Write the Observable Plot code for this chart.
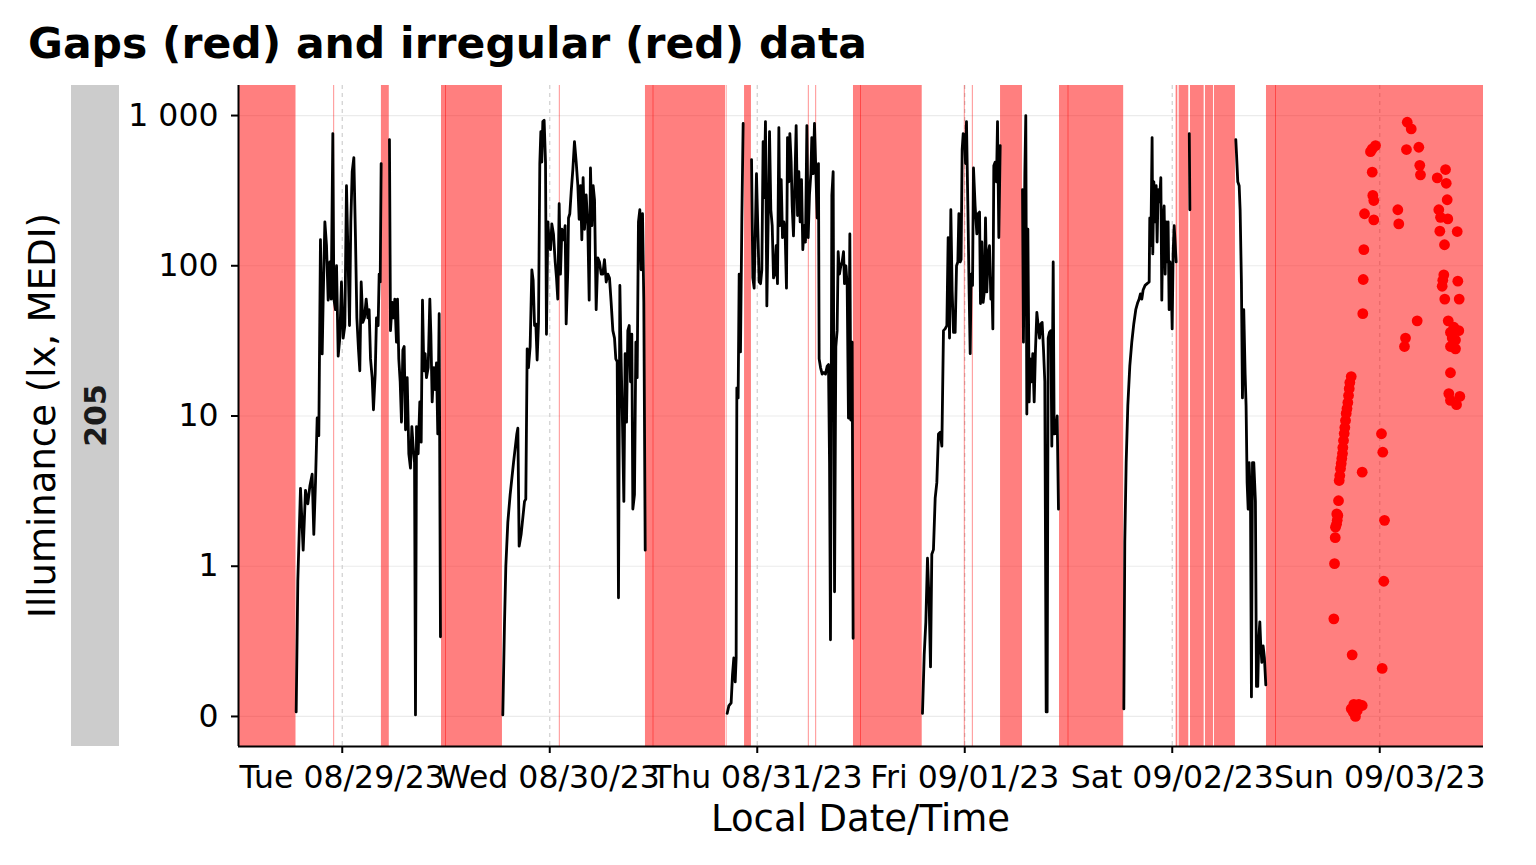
<!DOCTYPE html>
<html>
<head>
<meta charset="utf-8">
<script src="https://cdn.jsdelivr.net/npm/d3@7"></script>
<script src="https://cdn.jsdelivr.net/npm/@observablehq/plot@0.6"></script>
<style>
  html, body { margin: 0; padding: 0; background: #fff; }
  #chart svg { display: block; }
</style>
</head>
<body>
<div id="chart"></div>
<script>
// ---- time values are hours since 2023-08-28 00:00 ----
const titleText = "Gaps (red) and irregular (red) data";
const yLabel = "Illuminance (lx, MEDI)";
const xLabel = "Local Date/Time";
const facetLabel = "205";
const xRangeHours = [12, 156];
const dayTickHours = [24, 48, 72, 96, 120, 144];
const yTickValues = [0, 1, 10, 100, 1000];
const yTickLabels = ["0", "1", "10", "100", "1 000"];

// gaps (start / end, hours)
const gapStart = [12, 23.02, 28.53, 35.48, 35.95, 49.11, 59.07, 59.95, 68.42, 70.53, 77.91, 78.77,
  83.13, 83.95, 95.95, 96.88, 100.14, 106.96, 107.95, 120.45, 120.80, 122.11, 123.84, 124.88, 130.90, 131.95];
const gapEnd = [18.65, 23.12, 29.44, 36.05, 42.53, 49.21, 60.05, 68.33, 68.50, 71.33, 78.01, 78.87,
  84.05, 91.08, 96.05, 96.98, 102.68, 108.05, 114.38, 120.64, 121.91, 123.69, 124.77, 127.31, 132.05, 156];

// regular measurements (null = break)
const hoursA = [18.67,18.86,19.17,19.48,19.75,20.02,20.25,20.52,20.71,20.91,21.10,21.29,21.48,21.68,21.79,21.99,22.18,22.37,22.56,22.72,22.91,23.03,23.22,23.34,23.53,23.72,23.91,24.11,24.30,24.49,24.68,24.84,24.99,25.15,25.34,25.53,25.69,25.88,26.03,26.19,26.38,26.57,26.77,26.96,27.11,27.27,27.46,27.61,27.81,27.96,28.15,28.27,28.39,28.50,29.0,29.46,29.58,29.77,29.93,30.08,30.27,30.39,30.54,30.70,30.85,31.01,31.16,31.32,31.51,31.70,31.89,32.05,32.20,32.36,32.47,32.59,32.78,32.97,33.13,33.28,33.44,33.59,33.74,33.94,34.13,34.25,34.40,34.59,34.75,34.90,35.05,35.21,35.36];
const luxA = [0.03,0.9,3.3,1.28,3.2,2.6,3.4,4.1,1.63,3.7,9.7,7.4,149,25.9,57.5,196,136,59,106,60,759,60,51,100,25,33,78,33,40,341,106,40,196,423,525,154,45,27.5,20,78,42,45,60,45,51,24,18,11,19,45,40,88,78,479,null,692,37,57,45,60,31,60,24,16.9,9.1,27.5,29,8.1,18,5.6,4.5,8.5,6.3,4.9,0.01,8.5,5.6,12.4,6.7,59,20,26,18,21,60,35,12.4,21,15,22.6,7.6,48,0.53];

const hoursB = [42.57,42.77,42.92,43.15,43.42,43.81,44.19,44.31,44.46,44.69,45.08,45.23,45.39,45.54,45.73,45.93,46.08,46.24,46.39,46.54,46.70,46.85,46.97,47.08,47.20,47.35,47.51,47.62,47.78,47.93,48.09,48.24,48.43,48.63,48.78,48.93,49.09,49.24,49.40,49.59,49.78,49.90,50.09,50.17,50.32,50.48,50.67,50.86,51.06,51.25,51.40,51.56,51.71,51.86,52.02,52.21,52.40,52.56,52.71,52.87,53.02,53.18,53.37,53.56,53.75,53.95,54.14,54.33,54.53,54.72,54.91,55.10,55.30,55.49,55.64,55.80,55.95,56.11,56.26,56.41,56.57,56.72,56.88,57.03,57.19,57.34,57.49,57.61,57.80,57.96,58.11,58.26,58.42,58.57,58.73,58.88,59.04];
const luxB = [0.01,0.63,1.0,1.96,3.0,4.9,7.6,8.3,1.36,1.63,2.7,2.8,28,21,29,94,80,40,41,23.6,42,479,782,490,912,930,490,35,196,144,128,190,163,106,83,60,259,88,175,149,185,41,94,208,222,311,437,671,490,341,204,341,149,386,175,296,185,59,448,185,341,275,51,113,106,88,88,110,78,88,83,57,37,33,24,23,0.79,74,23,9.1,2.7,26,9.1,37,40,16.9,35,2.4,3.0,31,18,196,236,94,222,57,1.28];

const hoursC = [68.52,68.71,68.98,69.14,69.29,69.45,69.56,69.64,69.79,69.91,70.06,70.22,70.37,70.9,71.34,71.49,71.64,71.80,71.91,72.07,72.22,72.38,72.53,72.68,72.80,72.95,73.11,73.26,73.42,73.57,73.73,73.88,74.03,74.19,74.34,74.50,74.61,74.77,74.92,75.08,75.23,75.38,75.50,75.65,75.77,75.92,76.04,76.19,76.35,76.50,76.66,76.81,76.96,77.12,77.27,77.43,77.58,77.74,77.89,78.04,78.20,78.31,78.47,78.62,78.78,78.93,79.08,79.16,79.32,79.51,79.70,79.89,80.09,80.24,80.36,80.47,80.63,80.78,80.94,81.09,81.24,81.36,81.51,81.67,81.82,81.98,82.09,82.25,82.40,82.55,82.71,82.82,82.98,83.09];
const luxC = [0.02,0.07,0.09,0.28,0.39,0.23,0.39,15.4,13.2,88,26.7,208,885,null,509,83,71,196,410,175,78,76,94,671,284,912,54,196,782,236,185,83,88,136,76,832,185,374,154,196,163,71,713,362,759,490,250,158,362,858,216,423,196,374,128,185,144,858,154,296,410,713,410,885,423,208,479,24,21,19,19.5,19,21.5,22,4.9,0.51,296,423,0.83,29,37,124,88,100,106,124,76,100,74,9.7,163,9.4,31,0.52];

const hoursD = [91.11,91.31,91.50,91.69,91.88,92.04,92.19,92.38,92.58,92.77,92.96,93.16,93.35,93.54,93.73,93.93,94.08,94.24,94.39,94.54,94.70,94.89,95.05,95.20,95.32,95.47,95.58,95.70,95.82,95.97,96.09,96.20,96.36,96.51,96.63,96.74,96.90,97.01,97.20,97.40,97.55,97.71,97.82,97.98,98.13,98.28,98.40,98.55,98.71,98.86,99.02,99.13,99.25,99.36,99.52,99.67,99.79,99.94,100.10,101.0,102.68,102.79,102.95,103.06,103.18,103.30,103.45,103.57,103.72,103.87,104.03,104.18,104.34,104.49,104.65,104.80,104.95,105.11,105.26,105.42,105.53,105.65,105.80,105.96,106.07,106.23,106.34,106.53,106.69,106.84];
const luxD = [0.02,0.41,0.63,1.13,0.76,0.33,1.2,1.29,2.84,3.6,7.6,7.8,6.3,37,38,40,154,33,236,69,36,36,100,106,222,106,110,593,759,740,479,912,250,65,26,88,74,448,250,163,222,228,56,144,57,69,208,67,120,136,60,83,38,464,490,362,912,154,631,null,321,31,410,1000,10.3,175,12.4,24,16.9,26,12.4,27.5,49,40,33,41,42,27.5,16.9,0.03,0.03,33,36,37,6.3,106,7.6,7.8,10,2.4];

const hoursE = [114.40,114.51,114.67,114.86,115.09,115.32,115.55,115.78,116.01,116.17,116.32,116.48,116.63,116.86,117.09,117.33,117.40,117.52,117.67,117.75,117.87,118.02,118.14,118.25,118.37,118.52,118.68,118.79,118.91,119.06,119.18,119.29,119.41,119.52,119.64,119.75,119.87,119.99,120.10,120.22,120.33,120.45,121.0,121.97,122.04,125.0,127.35,127.43,127.58,127.74,127.85,128.00,128.12,128.27,128.43,128.54,128.66,128.78,128.89,129.05,129.16,129.28,129.43,129.62,129.74,129.89,130.01,130.13,130.24,130.36,130.51,130.66,130.82];
const luxE = [0.05,1.45,4.9,11.7,21.5,31,41,51,57,60,65,60,69,74,76,78,208,136,713,120,362,196,341,144,321,266,386,59,185,250,88,196,106,196,51,106,88,38,120,185,144,106,null,759,236,null,692,558,362,341,236,78,13.2,51,19,11.7,3.6,2.4,4.9,2.7,0.13,4.9,4.9,2.7,0.2,0.2,0.52,0.63,0.47,0.36,0.47,0.39,0.21];

// irregular measurements
const irrHours = [138.69,138.77,138.85,138.88,139.00,139.08,139.15,139.03,139.23,139.31,139.38,139.46,139.54,139.61,139.69,139.73,139.81,139.89,139.96,140.04,140.12,140.21,140.31,140.39,140.47,140.54,140.70,
  141.97,144.20,144.35,144.55,144.47,144.28,140.81,
  140.70,141.00,141.58,141.97,141.19,140.93,141.40,
  147.18,147.64,143.51,143.13,142.93,148.52,147.09,143.13,148.63,148.71,151.61,150.65,151.69,143.20,143.31,151.80,142.24,143.31,146.09,146.20,150.83,151.03,151.87,150.95,152.96,151.49,142.16,151.41,151.29,151.22,153.03,142.09,151.52,153.19,142.04,148.33,151.92,146.98,146.86,152.57,153.14,152.18,152.38,152.76,152.18,152.76,152.18,151.99,153.26,152.18,152.88];
const irrLux = [0.65,1.04,1.55,1.82,1.90,2.02,2.18,2.23,2.73,3.72,4.02,4.48,4.83,5.21,5.63,6.17,6.87,7.65,8.38,9.33,10.4,11.2,12.3,13.7,15.2,16.7,18.3,
  4.23,7.62,5.74,2.02,0.90,0.32,0.41,
  0.051,0.080,0.080,0.073,0.0,0.029,0.04,
  902,815,631,600,575,615,594,420,466,403,437,385,354,294,272,275,222,202,236,190,236,210,205,170,169,138,128,87,80,73,79,81,60,60,48,43,43,33,29,39,37,36,33,32,29,28,19.4,14.1,13.5,12.7,11.9];

// ---- helpers ----
const base = Date.UTC(2023, 7, 28, 0, 0, 0);
const toDate = h => new Date(base + h * 3600e3);
// symlog transform (linear below 1 lx, log10 above)
const symlog = v => (v == null || !isFinite(v)) ? NaN : (Math.abs(v) <= 1 ? v : Math.sign(v) * (1 + Math.log10(Math.abs(v))));

const segments = [[hoursA, luxA], [hoursB, luxB], [hoursC, luxC], [hoursD, luxD], [hoursE, luxE]];
const lineData = segments.flatMap(([hs, ls], i) => hs.map((h, j) => ({t: toDate(h), lux: ls[j], seg: i})));
const gaps = gapStart.map((s, i) => ({start: toDate(s), end: toDate(gapEnd[i])}));
const irregular = irrHours.map((h, i) => ({t: toDate(h), lux: irrLux[i]}));
const dayTicks = dayTickHours.map(toDate);
const yTicks = yTickValues.map(symlog);
const yLab = new Map(yTicks.map((v, i) => [v, yTickLabels[i]]));
const fmt = d3.utcFormat("%a %m/%d/%y");

const W = 1536, H = 865, ML = 238, MR = 53, MT = 85, MB = 119;
const yDomain = [-0.2, 4.2];
const tickFont = 31.5;

const chart = Plot.plot({
  width: W, height: H,
  marginLeft: ML, marginRight: MR, marginTop: MT, marginBottom: MB,
  style: {fontFamily: "DejaVu Sans", fontSize: "30px", color: "black", background: "white", overflow: "visible"},
  x: {type: "utc", domain: [toDate(xRangeHours[0]), toDate(xRangeHours[1])]},
  y: {type: "linear", domain: yDomain},
  marks: [
    Plot.gridY(yTicks, {stroke: "#ebebeb", strokeOpacity: 1, strokeWidth: 1.2}),
    Plot.gridX(dayTicks, {stroke: "#cfcfcf", strokeOpacity: 1, strokeWidth: 1.2, strokeDasharray: "4,4"}),
    Plot.rect(gaps, {x1: "start", x2: "end", fill: "red", fillOpacity: 0.5}),
    Plot.line(lineData, {x: "t", y: d => symlog(d.lux), z: "seg", stroke: "black", strokeWidth: 2.8, strokeLinejoin: "round"}),
    Plot.dot(irregular, {x: "t", y: d => symlog(d.lux), r: 5.4, fill: "red", stroke: "none"}),
    Plot.ruleX([toDate(xRangeHours[0])], {stroke: "black", strokeWidth: 2}),
    Plot.ruleY([yDomain[0]], {stroke: "black", strokeWidth: 2}),
    Plot.axisY({ticks: yTicks, tickFormat: d => yLab.get(d), tickSize: 7, tickPadding: 13, fontSize: tickFont, label: null, strokeWidth: 2, fill: "black"}),
    Plot.axisX({ticks: dayTicks, tickFormat: fmt, tickSize: 7, tickPadding: 12, fontSize: tickFont, label: null, strokeWidth: 2, fill: "black"})
  ]
});

document.getElementById("chart").appendChild(chart);

// decorations: title, axis titles, facet strip
const svg = d3.select(chart);
svg.append("text").attr("x", 28).attr("y", 58).attr("text-anchor", "start")
  .attr("font-family", "DejaVu Sans").attr("font-weight", "bold").attr("font-size", 42.5)
  .attr("fill", "black").text(titleText);
svg.append("text").attr("transform", `translate(${(ML + W - MR) / 2},831)`)
  .attr("text-anchor", "middle").attr("font-family", "DejaVu Sans").attr("font-size", 37)
  .attr("fill", "black").text(xLabel);
svg.append("text").attr("transform", `translate(55,${(MT + H - MB) / 2}) rotate(-90)`)
  .attr("text-anchor", "middle").attr("font-family", "DejaVu Sans").attr("font-size", 37)
  .attr("fill", "black").text(yLabel);
svg.append("rect").attr("x", 71).attr("y", MT).attr("width", 48).attr("height", H - MB - MT)
  .attr("fill", "#cccccc");
svg.append("text").attr("transform", `translate(106,${(MT + H - MB) / 2}) rotate(-90)`)
  .attr("text-anchor", "middle").attr("font-family", "DejaVu Sans").attr("font-weight", "bold")
  .attr("font-size", 30).attr("fill", "#1a1a1a").text(facetLabel);
</script>
</body>
</html>
